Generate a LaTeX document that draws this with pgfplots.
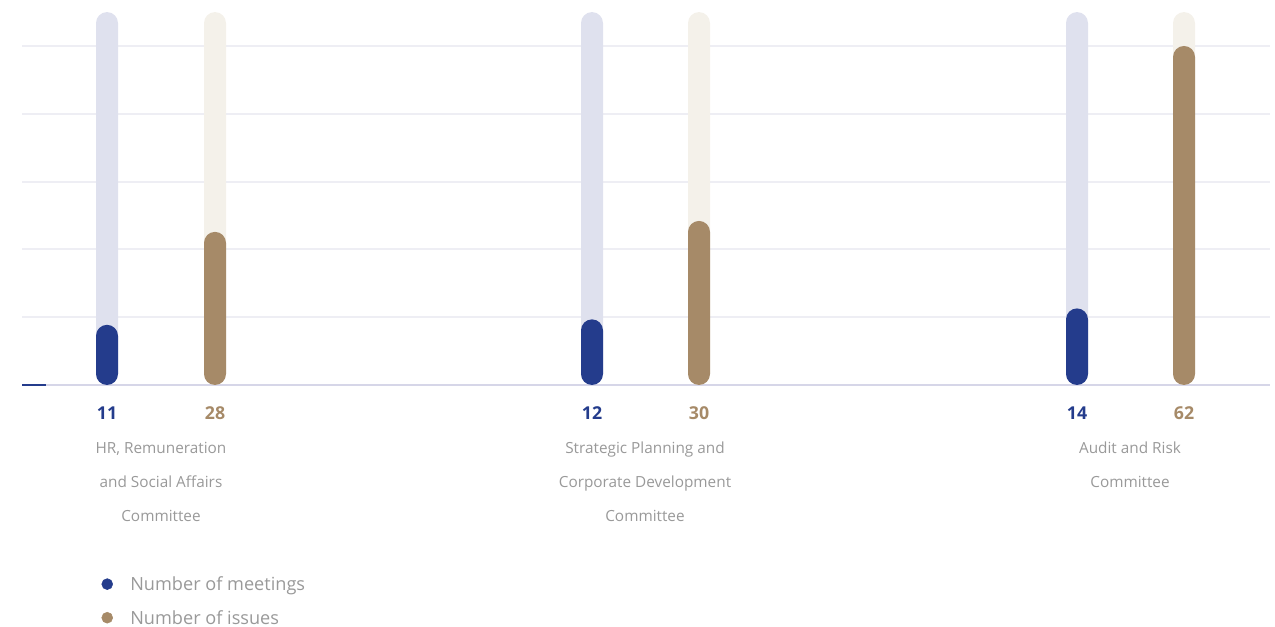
\documentclass[border=0pt]{standalone}
\usepackage{pgfplots}
\pgfplotsset{compat=1.18}
\usepackage{fontspec}
\setmainfont{Open Sans}
\definecolor{meet}{HTML}{243C8C}
\definecolor{meetbg}{HTML}{DFE1EE}
\definecolor{iss}{HTML}{A68A68}
\definecolor{issbg}{HTML}{F4F1EA}
\definecolor{gridc}{HTML}{EEEEF4}
\definecolor{basec}{HTML}{D6D6E8}
\definecolor{txt}{HTML}{999999}
\begin{document}
\begin{tikzpicture}
\useasboundingbox (0,0) rectangle (956.25pt,470.25pt);
\begin{axis}[
  x=0.75pt, y=4.101pt,
  xmin=0, xmax=1275, ymin=-44.26, ymax=70.41,
  hide axis, clip=false,
  legend style={at={(axis cs:101.5,-35.2)}, anchor=north west, draw=none, fill=none,
    inner sep=0pt, outer sep=0pt, column sep=13pt, row sep=15.2pt,
    font=\fontsize{13.6}{15}\selectfont\color{txt},
    nodes={inner sep=0pt, text height=10pt, text depth=0pt}},
  legend cell align=left,
  barstyle/.style={ybar, bar width=16.5pt, bar shift=0pt, draw=none, rounded corners=8.25pt, forget plot},
]
% grid lines and baseline
\pgfplotsinvokeforeach{12.4,24.8,37.2,49.6,62}{
  \draw[gridc, line width=1.5pt] (axis cs:22,#1) -- (axis cs:1270,#1);
}
\draw[basec, line width=2pt] (axis cs:22,0) -- (axis cs:1270,0);
\draw[meet, line width=2pt] (axis cs:22,0) -- (axis cs:46,0);
% background tracks
\addplot[barstyle, fill=meetbg] coordinates {(107,68.2) (592,68.2) (1077,68.2)};
\addplot[barstyle, fill=issbg] coordinates {(215,68.2) (699,68.2) (1184,68.2)};
% data
\addplot[barstyle, fill=meet] coordinates {(107,11) (592,12) (1077,14)};
\addplot[barstyle, fill=iss] coordinates {(215,28) (699,30) (1184,62)};
% value labels
\tikzset{vl/.style={anchor=base, font=\fontsize{13.3}{15}\selectfont\bfseries}}
\node[vl, text=meet] at (axis cs:107,-6.4) {11};
\node[vl, text=iss] at (axis cs:215,-6.4) {28};
\node[vl, text=meet] at (axis cs:592,-6.4) {12};
\node[vl, text=iss] at (axis cs:699,-6.4) {30};
\node[vl, text=meet] at (axis cs:1077,-6.4) {14};
\node[vl, text=iss] at (axis cs:1184,-6.4) {62};
% committee labels
\tikzset{cl/.style={anchor=base, font=\fontsize{11.5}{13}\selectfont, text=txt}}
\node[cl] at (axis cs:161,-12.6) {HR, Remuneration};
\node[cl] at (axis cs:161,-18.8) {and Social Affairs};
\node[cl] at (axis cs:161,-25.0) {Committee};
\node[cl] at (axis cs:645,-12.6) {Strategic Planning and};
\node[cl] at (axis cs:645,-18.8) {Corporate Development};
\node[cl] at (axis cs:645,-25.0) {Committee};
\node[cl] at (axis cs:1130,-12.6) {Audit and Risk};
\node[cl] at (axis cs:1130,-18.8) {Committee};
% legend
\addlegendimage{legend image code/.code={\fill[meet] (4.1pt,0pt) circle (4.1pt);}}
\addlegendentry{Number of meetings}
\addlegendimage{legend image code/.code={\fill[iss] (4.1pt,0pt) circle (4.1pt);}}
\addlegendentry{Number of issues}
\end{axis}
\end{tikzpicture}
\end{document}
